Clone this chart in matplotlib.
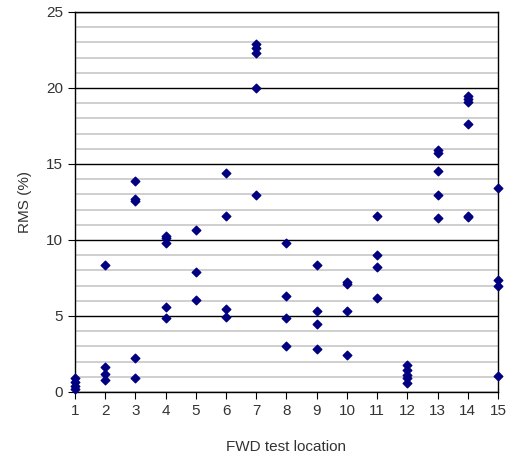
import numpy as np
import matplotlib
matplotlib.use("Agg")
import matplotlib.pyplot as plt
from matplotlib.ticker import MultipleLocator

plt.rcParams['font.family'] = ['Liberation Sans', 'DejaVu Sans']

locations = list(range(1, 16))
rms_values = [
    [0.95, 0.65, 0.4, 0.2],
    [8.35, 1.65, 1.2, 0.8],
    [13.9, 12.7, 12.55, 2.25, 0.9],
    [10.25, 10.1, 9.8, 5.6, 4.85],
    [10.65, 7.9, 6.05],
    [14.4, 11.6, 5.45, 4.95],
    [22.9, 22.6, 22.3, 20.0, 12.95],
    [9.8, 6.3, 4.9, 3.0],
    [8.35, 5.35, 4.5, 2.85],
    [7.25, 7.1, 5.35, 2.45],
    [11.6, 9.0, 8.25, 6.2],
    [1.75, 1.45, 1.15, 0.9, 0.6],
    [15.9, 15.75, 14.55, 12.95, 11.45],
    [19.45, 19.25, 19.1, 17.65, 11.6, 11.5],
    [13.4, 7.4, 6.95, 1.05],
]

xs = []
ys = []
for loc, vals in zip(locations, rms_values):
    for v in vals:
        xs.append(loc)
        ys.append(v)

fig = plt.figure(figsize=(5.16, 4.61), dpi=100)
ax = fig.add_axes([0.1453, 0.1497, 0.8197, 0.8243])

# light minor grid every 1, black major grid every 5
ax.yaxis.set_minor_locator(MultipleLocator(1))
ax.yaxis.set_major_locator(MultipleLocator(5))
ax.grid(which='minor', axis='y', color='#cccccc', linewidth=1.3)
ax.grid(which='major', axis='y', color='black', linewidth=1.0)
ax.set_axisbelow(True)

ax.scatter(xs, ys, marker='D', s=19, color='#000080', zorder=3, clip_on=False)

ax.set_xlim(1, 15)
ax.set_ylim(0, 25)
ax.set_xticks(locations)
ax.tick_params(axis='both', which='major', labelsize=11, direction='out', length=5,
               colors='black', labelcolor='#333333')
ax.tick_params(axis='y', which='minor', length=0)
ax.set_xlabel('FWD test location', fontsize=11, color='#333333', labelpad=16)
ax.set_ylabel('RMS (%)', fontsize=11, color='#333333', labelpad=10)
for sp in ax.spines.values():
    sp.set_color('black')
    sp.set_linewidth(1.0)

fig.savefig('out.png', dpi=100)
